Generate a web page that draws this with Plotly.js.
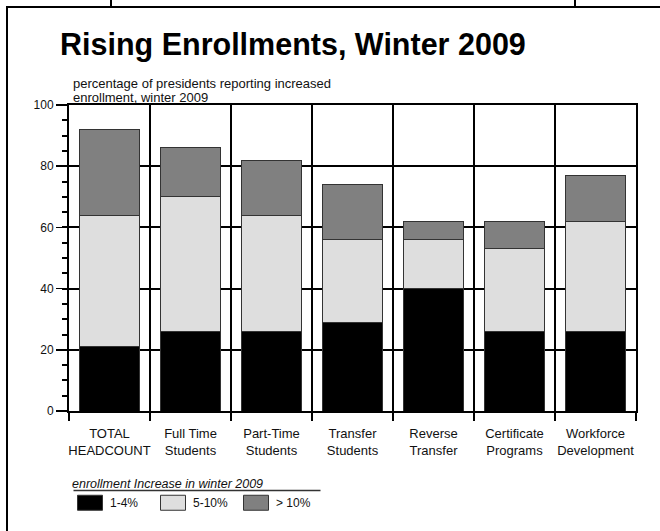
<!DOCTYPE html>
<html>
<head>
<meta charset="utf-8">
<script src="https://cdn.plot.ly/plotly-3.0.1.min.js"></script>
<style>
  html, body { margin: 0; padding: 0; background: #fff; overflow: hidden; }
  #wrap { position: relative; width: 660px; height: 531px; overflow: hidden; background: #fff; }
  #chart { position: absolute; left: 0; top: 0; width: 660px; height: 531px; }
  .cover { position: absolute; left: 640px; top: 10px; width: 30px; height: 530px; background: #fff; pointer-events: none; }
  .frame { position: absolute; left: 6px; top: 6px; width: 700px; height: 600px;
           border-top: 2.5px solid #000; border-left: 2.5px solid #000; border-right: 0; border-bottom: 0;
           pointer-events: none; }
  .mark { position: absolute; top: 0; width: 1.5px; height: 7px; background: #000; pointer-events: none; }
</style>
</head>
<body>
<div id="wrap">
  <div id="chart"></div>
  <div class="cover"></div>
  <div class="frame"></div>
  <div class="mark" style="left:110px"></div>
  <div class="mark" style="left:574px"></div>
</div>
<script>
// ---- data ----
const categories = [
  "TOTAL<br>HEADCOUNT",
  "Full Time<br>Students",
  "Part-Time<br>Students",
  "Transfer<br>Students",
  "Reverse<br>Transfer",
  "Certificate<br>Programs",
  "Workforce<br>Development"
];
const seriesNames = ["1-4%", "5-10%", "> 10%"];
const low  = [21, 26, 26, 29, 40, 26, 26];   // 1-4%
const mid  = [43, 44, 38, 27, 16, 27, 36];   // 5-10%
const high = [28, 16, 18, 18, 6, 9, 15];     // > 10%
const seriesColors = ["#000000", "#dedede", "#808080"];
const yTickVals = [0, 20, 40, 60, 80, 100];

const FONT = "'Liberation Sans', Arial, Helvetica, sans-serif";

const seriesValues = [low, mid, high];
const traces = seriesValues.map((vals, i) => ({
  type: "bar",
  name: seriesNames[i],
  x: categories,
  y: vals,
  marker: { color: seriesColors[i], line: { color: "#333333", width: 1 } },
  hoverinfo: "skip"
}));

// paper-coordinate helpers (plot area: x 69..636, y 105..411 px)
const L = 69, R = 636, T = 105, B = 411;
const px = v => (v - L) / (R - L);
const py = v => (B - v) / (B - T);

const layout = {
  width: 660,
  height: 531,
  paper_bgcolor: "rgba(0,0,0,0)",
  plot_bgcolor: "#ffffff",
  font: { family: FONT, color: "#111111", size: 12 },
  margin: { l: L, r: 660 - R, t: T, b: 531 - B, pad: 0, autoexpand: false },
  barmode: "stack",
  bargap: 0.26,
  title: {
    text: "<b>Rising Enrollments, Winter 2009</b>",
    font: { family: FONT, size: 30.5, color: "#000000" },
    xref: "container", x: 60 / 660, xanchor: "left",
    yref: "container", y: 1 - 44 / 531, yanchor: "middle"
  },
  xaxis: {
    type: "category",
    tickson: "boundaries",
    tickangle: 0,
    ticks: "outside", ticklen: 8, tickwidth: 2, tickcolor: "#000",
    ticklabelstandoff: 9,
    showgrid: true, gridcolor: "#000", gridwidth: 2,
    showline: true, linecolor: "#000", linewidth: 2, mirror: true,
    tickfont: { family: FONT, size: 13, color: "#111" },
    fixedrange: true
  },
  yaxis: {
    range: [0, 100],
    tickvals: yTickVals,
    ticks: "outside", ticklen: 11, tickwidth: 1.5, tickcolor: "#000",
    minor: { dtick: 5, ticks: "outside", ticklen: 5, tickwidth: 2, tickcolor: "#000", showgrid: false },
    showgrid: true, gridcolor: "#000", gridwidth: 2,
    zeroline: false,
    showline: true, linecolor: "#000", linewidth: 2, mirror: true,
    tickfont: { family: FONT, size: 12, color: "#111" },
    fixedrange: true
  },
  showlegend: true,
  legend: {
    orientation: "h",
    traceorder: "normal",
    x: px(70), xanchor: "left",
    y: py(472), yanchor: "top",
    entrywidth: 38,
    font: { family: FONT, size: 12, color: "#111" },
    title: { text: "<i>enrollment Increase in winter 2009</i>", side: "top", font: { family: FONT, size: 12.5, color: "#111" } },
    bgcolor: "rgba(0,0,0,0)"
  },
  annotations: [
    { text: "percentage of presidents reporting increased", xref: "paper", yref: "paper",
      x: px(71), y: py(83.5), xanchor: "left", yanchor: "middle", showarrow: false,
      font: { family: FONT, size: 13, color: "#111" } },
    { text: "enrollment, winter 2009", xref: "paper", yref: "paper",
      x: px(71), y: py(97.5), xanchor: "left", yanchor: "middle", showarrow: false,
      font: { family: FONT, size: 13, color: "#111" } }
  ],
  shapes: [
    // legend title underline
    { type: "line", xref: "paper", yref: "paper", x0: px(73.5), x1: px(320.5), y0: py(490.5), y1: py(490.5),
      line: { color: "#333", width: 1.5 } }
  ]
};

function enlargeSwatches(gd) {
  gd.querySelectorAll(".legend .legendpoints path").forEach(p => {
    p.setAttribute("d", "M12.5,7.5H-12.5V-7.5H12.5Z");
  });
}

Plotly.newPlot("chart", traces, layout, { displayModeBar: false, staticPlot: true }).then(gd => {
  enlargeSwatches(gd);
  setTimeout(() => enlargeSwatches(gd), 50);
});
</script>
</body>
</html>
